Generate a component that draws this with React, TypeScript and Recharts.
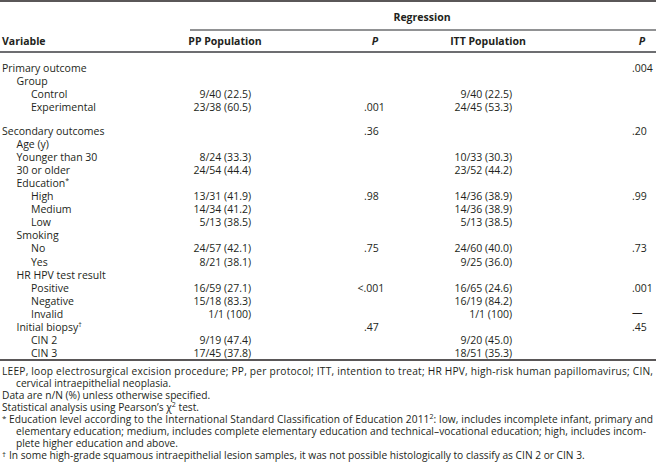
import { Surface, Layer } from "recharts";

const variables = [
  "Primary outcome", "Group", "Control", "Experimental",
  "Secondary outcomes", "Age (y)", "Younger than 30", "30 or older",
  "Education", "High", "Medium", "Low", "Smoking", "No", "Yes",
  "HR HPV test result", "Positive", "Negative", "Invalid",
  "Initial biopsy", "CIN 2", "CIN 3",
];
const levels = [0, 1, 2, 2, 0, 1, 1, 1, 1, 2, 2, 2, 1, 2, 2, 1, 2, 2, 2, 1, 2, 2];
const labelMarks: Record<string, string> = { Education: "*", "Initial biopsy": "†" };

const ppPopulation = [
  "", "", "9/40 (22.5)", "23/38 (60.5)",
  "", "", "8/24 (33.3)", "24/54 (44.4)",
  "", "13/31 (41.9)", "14/34 (41.2)", "5/13 (38.5)",
  "", "24/57 (42.1)", "8/21 (38.1)",
  "", "16/59 (27.1)", "15/18 (83.3)", "1/1 (100)",
  "", "9/19 (47.4)", "17/45 (37.8)",
];
const ppP = [
  "", "", "", ".001", ".36", "", "", "", "", ".98", "", "",
  "", ".75", "", "", "<.001", "", "", ".47", "", "",
];
const ittPopulation = [
  "", "", "9/40 (22.5)", "24/45 (53.3)",
  "", "", "10/33 (30.3)", "23/52 (44.2)",
  "", "14/36 (38.9)", "14/36 (38.9)", "5/13 (38.5)",
  "", "24/60 (40.0)", "9/25 (36.0)",
  "", "16/65 (24.6)", "16/19 (84.2)", "1/1 (100)",
  "", "9/20 (45.0)", "18/51 (35.3)",
];
const ittP = [
  ".004", "", "", "", ".20", "", "", "", "", ".99", "", "",
  "", ".73", "", "", ".001", "", "—", ".45", "", "",
];

const W = 656;
const H = 466;
const INK = "#231f20";
const RULE_GRAY = "#6d6e71";
const FONT = "'Open Sans', sans-serif";
const FS = 10.5;
const FOOT_FS = 10.2;

// row centres: two blocks separated by a gap
function rowY(i: number) {
  return i < 4 ? 68 + i * 13.1 : 130.5 + (i - 4) * 13.1;
}

function Cell({ x, y, anchor = "start", bold = false, italic = false, children }: any) {
  return (
    <text
      x={x}
      y={y}
      textAnchor={anchor}
      dominantBaseline="central"
      fontFamily={FONT}
      fontSize={FS}
      fontWeight={bold ? 700 : 400}
      fontStyle={italic ? "italic" : "normal"}
      fill={INK}
    >
      {children}
    </text>
  );
}

const footY = (i: number) => 371 + i * 12;

export default function App() {
  return (
    <div style={{ position: "absolute", left: 0, top: 0, width: W, height: H, background: "#fff" }}>
      <Surface width={W} height={H}>
        <Layer>
          {/* rules */}
          <line x1={0} x2={W} y1={1} y2={1} stroke={INK} strokeWidth={1.6} />
          <line x1={190} x2={W} y1={30} y2={30} stroke={RULE_GRAY} strokeWidth={1.6} />
          <line x1={0} x2={W} y1={52} y2={52} stroke={RULE_GRAY} strokeWidth={2} />
          <line x1={0} x2={W} y1={360} y2={360} stroke={INK} strokeWidth={1.4} />

          {/* headers */}
          <Cell x={422} y={17} anchor="middle" bold>Regression</Cell>
          <Cell x={2} y={41} bold>Variable</Cell>
          <Cell x={225} y={41} anchor="middle" bold>PP Population</Cell>
          <Cell x={375} y={41} anchor="middle" bold italic>P</Cell>
          <Cell x={488} y={41} anchor="middle" bold>ITT Population</Cell>
          <Cell x={642} y={41} anchor="middle" bold italic>P</Cell>
        </Layer>

        <Layer>
          {variables.map((v, i) => {
            const y = rowY(i);
            const mark = labelMarks[v];
            return (
              <g key={v + i}>
                <Cell x={2 + levels[i] * 14.5} y={y}>
                  {v}
                  {mark ? <tspan dy={-3} fontSize={7}>{mark}</tspan> : null}
                </Cell>
                {ppPopulation[i] && <Cell x={251} y={y} anchor="end">{ppPopulation[i]}</Cell>}
                {ppP[i] && (
                  <Cell x={ppP[i].startsWith("<") ? 357.5 : 364} y={y}>{ppP[i]}</Cell>
                )}
                {ittPopulation[i] && <Cell x={512} y={y} anchor="end">{ittPopulation[i]}</Cell>}
                {ittP[i] && <Cell x={632} y={ittP[i] === "—" ? y - 2 : y}>{ittP[i]}</Cell>}
              </g>
            );
          })}
        </Layer>

        <Layer fontFamily={FONT} fontSize={FOOT_FS} fill={INK}>
          <text x={2} y={footY(0)} dominantBaseline="central" textLength={651} lengthAdjust="spacing">
            LEEP, loop electrosurgical excision procedure; PP, per protocol; ITT, intention to treat; HR HPV, high-risk human papillomavirus; CIN,
          </text>
          <text x={16} y={footY(1)} dominantBaseline="central">cervical intraepithelial neoplasia.</text>
          <text x={2} y={footY(2)} dominantBaseline="central">Data are n/N (%) unless otherwise specified.</text>
          <text x={2} y={footY(3)} dominantBaseline="central">
            Statistical analysis using Pearson’s χ
            <tspan dy={-3} fontSize={7}>2</tspan>
            <tspan dy={3}> test.</tspan>
          </text>
          <text x={2} y={footY(4) - 2} dominantBaseline="central" fontSize={8}>*</text>
          <text x={9} y={footY(4)} dominantBaseline="central" textLength={644} lengthAdjust="spacing">
            Education level according to the International Standard Classification of Education 2011
            <tspan dy={-3} fontSize={7}>2</tspan>
            <tspan dy={3}>: low, includes incomplete infant, primary and</tspan>
          </text>
          <text x={16} y={footY(5)} dominantBaseline="central" textLength={630} lengthAdjust="spacing">
            elementary education; medium, includes complete elementary education and technical–vocational education; high, includes incom-
          </text>
          <text x={16} y={footY(6)} dominantBaseline="central">plete higher education and above.</text>
          <text x={2} y={footY(7) - 2} dominantBaseline="central" fontSize={8}>†</text>
          <text x={9} y={footY(7)} dominantBaseline="central">
            In some high-grade squamous intraepithelial lesion samples, it was not possible histologically to classify as CIN 2 or CIN 3.
          </text>
        </Layer>
      </Surface>
    </div>
  );
}
